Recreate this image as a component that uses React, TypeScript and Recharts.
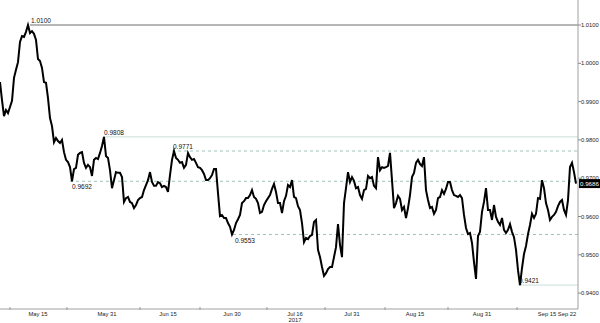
import React from 'react';
import { LineChart, Line, XAxis, YAxis, ReferenceLine, ReferenceDot } from 'recharts';

// EUR/CHF-like series, one sample every ~0.36 trading days
const values: number[] = [
  0.9951, 0.9904, 0.9862, 0.9878, 0.9870, 0.9886, 0.9902, 0.9962, 0.9983, 1.0003,
  1.0056, 1.0071, 1.0069, 1.0082, 1.0100, 1.0079, 1.0084, 1.0077, 1.0061, 1.0011,
  1.0006, 0.9988, 0.9951, 0.9949, 0.9909, 0.9857, 0.9836, 0.9794, 0.9805, 0.9797,
  0.9792, 0.9800, 0.9768, 0.9748, 0.9742, 0.9729, 0.9692, 0.9724, 0.9727, 0.9761,
  0.9766, 0.9768, 0.9740, 0.9727, 0.9735, 0.9729, 0.9706, 0.9748, 0.9753, 0.9750,
  0.9766, 0.9784, 0.9808, 0.9758, 0.9753, 0.9721, 0.9674, 0.9695, 0.9716, 0.9714,
  0.9714, 0.9703, 0.9638, 0.9648, 0.9651, 0.9638, 0.9635, 0.9622, 0.9630, 0.9643,
  0.9648, 0.9651, 0.9669, 0.9682, 0.9695, 0.9716, 0.9690, 0.9680, 0.9680, 0.9690,
  0.9687, 0.9677, 0.9680, 0.9677, 0.9664, 0.9708, 0.9748, 0.9771, 0.9753, 0.9748,
  0.9740, 0.9742, 0.9727, 0.9735, 0.9766, 0.9755, 0.9748, 0.9750, 0.9740, 0.9729,
  0.9727, 0.9721, 0.9711, 0.9695, 0.9695, 0.9700, 0.9708, 0.9724, 0.9724, 0.9661,
  0.9601, 0.9604, 0.9596, 0.9596, 0.9583, 0.9573, 0.9553, 0.9565, 0.9583, 0.9593,
  0.9604, 0.9635, 0.9640, 0.9648, 0.9648, 0.9656, 0.9669, 0.9651, 0.9646, 0.9635,
  0.9609, 0.9612, 0.9630, 0.9640, 0.9648, 0.9656, 0.9672, 0.9685, 0.9664, 0.9635,
  0.9635, 0.9609, 0.9640, 0.9654, 0.9682, 0.9677, 0.9695, 0.9651, 0.9648, 0.9627,
  0.9617, 0.9583, 0.9533, 0.9544, 0.9541, 0.9549, 0.9552, 0.9586, 0.9591, 0.9513,
  0.9494, 0.9468, 0.9445, 0.9452, 0.9463, 0.9468, 0.9468, 0.9494, 0.9520, 0.9580,
  0.9526, 0.9494, 0.9635, 0.9674, 0.9716, 0.9690, 0.9703, 0.9693, 0.9674, 0.9677,
  0.9656, 0.9646, 0.9669, 0.9672, 0.9706, 0.9700, 0.9703, 0.9680, 0.9674, 0.9755,
  0.9721, 0.9729, 0.9727, 0.9729, 0.9732, 0.9766, 0.9695, 0.9622, 0.9635, 0.9654,
  0.9646, 0.9617, 0.9625, 0.9596, 0.9622, 0.9656, 0.9703, 0.9714, 0.9740, 0.9748,
  0.9737, 0.9732, 0.9755, 0.9669, 0.9643, 0.9622, 0.9625, 0.9607, 0.9617, 0.9648,
  0.9651, 0.9669, 0.9659, 0.9672, 0.9690, 0.9690, 0.9669, 0.9656, 0.9654, 0.9651,
  0.9656, 0.9648, 0.9604, 0.9570, 0.9554, 0.9557, 0.9531, 0.9481, 0.9437, 0.9549,
  0.9560, 0.9612, 0.9638, 0.9674, 0.9617, 0.9617, 0.9591, 0.9630, 0.9599, 0.9586,
  0.9578, 0.9596, 0.9565, 0.9557, 0.9565, 0.9580, 0.9560, 0.9546, 0.9513, 0.9460,
  0.9421, 0.9465, 0.9502, 0.9523, 0.9554, 0.9578, 0.9607, 0.9596, 0.9607, 0.9648,
  0.9646, 0.9695, 0.9674, 0.9635, 0.9617, 0.9591, 0.9599, 0.9604, 0.9612, 0.9627,
  0.9638, 0.9643, 0.9617, 0.9604, 0.9643, 0.9729, 0.9740, 0.9716, 0.9686,
];

const tickIdx: number[] = [19, 53.5, 84, 116, 147.5, 176, 207.5, 241, 273.5, 283.5];
const tickLabels: string[] = ['May 15', 'May 31', 'Jun 15', 'Jun 30', 'Jul 16', 'Jul 31', 'Aug 15', 'Aug 31', 'Sep 15', 'Sep 22'];
const minorIdx: number[] = [5, 33.5, 70, 100, 133.5, 162.5, 192.5, 224, 258.5];
const yearLabel = '2017';
const yTicks: number[] = [0.94, 0.95, 0.96, 0.97, 0.98, 0.99, 1.0, 1.01];

const levelHigh = 1.01;
const level9808 = 0.9808;
const level9771 = 0.9771;
const level9692 = 0.9692;
const level9553 = 0.9553;
const level9421 = 0.9421;
const lastValue = values[values.length - 1];

const data = values.map((v, i) => ({ i, v }));
const lastIdx = values.length;
const allXTicks = [...minorIdx, ...tickIdx].sort((a, b) => a - b);

const FONT = '"Liberation Sans", Arial, sans-serif';
const TEAL = '#9dc3bc';

const aboveLabel = (text: string) => (props: any) => {
  const vb = props.viewBox || {};
  return (
    <text x={(vb.x || 0) + 1} y={(vb.y || 0) - 2} fontSize={6.5} fontFamily={FONT} fill="#111">
      {text}
    </text>
  );
};
const belowLabel = (text: string) => (props: any) => {
  const vb = props.viewBox || {};
  return (
    <text x={(vb.x || 0) + 2} y={(vb.y || 0) + 8} fontSize={6.5} fontFamily={FONT} fill="#111">
      {text}
    </text>
  );
};

const XTick = (props: any) => {
  const { x, y, payload } = props;
  const k = tickIdx.indexOf(payload.value);
  if (k < 0) {
    return <line x1={x} x2={x} y1={y - 2} y2={y + 1} stroke="#999" strokeWidth={1} />;
  }
  const label = tickLabels[k];
  return (
    <g>
      <text x={x} y={y + 7.3} textAnchor="middle" fontSize={5.8} fontFamily={FONT} fill="#222">
        {label}
      </text>
      {label === 'Jul 16' ? (
        <text x={x} y={y + 12.8} textAnchor="middle" fontSize={5.8} fontFamily={FONT} fill="#222">
          {yearLabel}
        </text>
      ) : null}
    </g>
  );
};

const YTick = (props: any) => {
  const { x, y, payload } = props;
  return (
    <text x={x - 2} y={y + 2} fontSize={5.8} fontFamily={FONT} fill="#222">
      {Number(payload.value).toFixed(4)}
    </text>
  );
};

const LastBox = (props: any) => {
  const { cx, cy } = props;
  if (cx == null || cy == null) return null;
  return (
    <g>
      <rect x={cx + 1} y={cy - 4.5} width={21} height={9} fill="#000" />
      <text x={cx + 2} y={cy + 2.3} fontSize={6.2} fontFamily={FONT} fill="#fff">
        {lastValue.toFixed(4)}
      </text>
    </g>
  );
};

export default function App() {
  return (
    <div style={{ position: 'absolute', left: 0, top: 0, width: 600, height: 323, background: '#fff' }}>
      <LineChart width={600} height={323} data={data} margin={{ top: 0, right: 0, bottom: 0, left: 0 }}>
        <XAxis
          dataKey="i"
          type="number"
          domain={[0, lastIdx]}
          ticks={allXTicks}
          tick={<XTick />}
          tickLine={false}
          tickSize={0}
          tickMargin={0}
          axisLine={{ stroke: '#a0a0a0', strokeWidth: 1 }}
          height={14}
          interval={0}
          allowDataOverflow
        />
        <YAxis
          orientation="right"
          type="number"
          domain={[0.93585, 1.01653]}
          ticks={yTicks}
          tick={<YTick />}
          tickSize={3}
          tickLine={{ stroke: '#888' }}
          axisLine={{ stroke: '#a0a0a0', strokeWidth: 1 }}
          width={22}
          allowDataOverflow
          interval={0}
        />
        <ReferenceLine
          segment={[{ x: 15, y: levelHigh }, { x: lastIdx, y: levelHigh }]}
          stroke="#6f6f6f"
          strokeWidth={1}
          label={aboveLabel(levelHigh.toFixed(4))}
        />
        <ReferenceLine
          segment={[{ x: 51.5, y: level9808 }, { x: lastIdx, y: level9808 }]}
          stroke="#c9dfdb"
          strokeWidth={1}
          label={aboveLabel(level9808.toFixed(4))}
        />
        <ReferenceLine
          segment={[{ x: 86, y: level9771 }, { x: lastIdx, y: level9771 }]}
          stroke={TEAL}
          strokeDasharray="3 3"
          strokeWidth={1}
          label={aboveLabel(level9771.toFixed(4))}
        />
        <ReferenceLine
          segment={[{ x: 35, y: level9692 }, { x: lastIdx, y: level9692 }]}
          stroke={TEAL}
          strokeDasharray="3 3"
          strokeWidth={1}
          label={belowLabel(level9692.toFixed(4))}
        />
        <ReferenceLine
          segment={[{ x: 116.5, y: level9553 }, { x: lastIdx, y: level9553 }]}
          stroke={TEAL}
          strokeDasharray="3 3"
          strokeWidth={1}
          label={belowLabel(level9553.toFixed(4))}
        />
        <ReferenceLine
          segment={[{ x: 259, y: level9421 }, { x: lastIdx, y: level9421 }]}
          stroke="#c9dfdb"
          strokeWidth={1}
          label={aboveLabel(level9421.toFixed(4))}
        />
        <Line
          type="linear"
          dataKey="v"
          stroke="#000"
          strokeWidth={2}
          dot={false}
          activeDot={false}
          isAnimationActive={false}
        />
        <ReferenceDot x={lastIdx} y={lastValue} r={0} shape={<LastBox />} ifOverflow="visible" />
      </LineChart>
    </div>
  );
}
